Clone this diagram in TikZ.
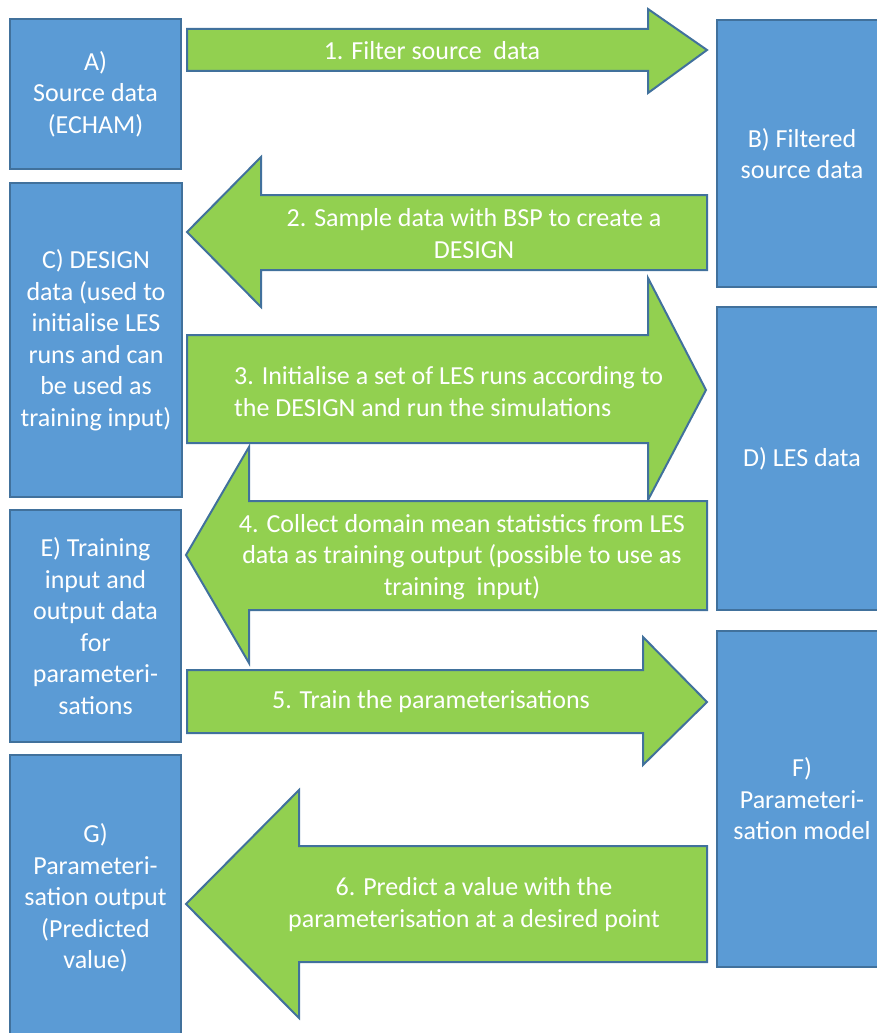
\documentclass[tikz,border=0pt]{standalone}
\usepackage{fontspec}
\setmainfont{Carlito}
\definecolor{boxblue}{HTML}{5B9BD5}
\definecolor{edgeblue}{HTML}{41719C}
\definecolor{arrgreen}{HTML}{92D050}
\begin{document}
\begin{tikzpicture}[x=1pt,y=-1pt,
  box/.style={draw=edgeblue,fill=boxblue,line width=2pt,rectangle,text=white,align=center,inner sep=0pt,
    font=\fontsize{26}{31.5}\selectfont},
  blockarrow/.style={draw=edgeblue,fill=arrgreen,line width=2pt,line join=miter},
  arrtext/.style={text=white,inner sep=0pt,font=\fontsize{26}{31.5}\selectfont}]
\useasboundingbox (0,0) rectangle (877,1033);
\clip (0,0) rectangle (877,1033);
% left column
\node[box,minimum width=171pt,minimum height=150pt] (A) at (95.5,94) {A)\\Source data\\(ECHAM)};
\node[box,minimum width=172pt,minimum height=314pt] (C) at (96,340) {C) DESIGN\\data (used to\\initialise LES\\runs and can\\be used as\\training input)};
\node[box,minimum width=171pt,minimum height=232pt] (E) at (95.5,626) {E) Training\\input and\\output data\\for\\parameteri-\\sations};
\node[box,minimum width=171pt,minimum height=286pt] (G) at (95.5,898) {G)\\Parameteri-\\sation output\\(Predicted\\value)};
% right column
\node[box,minimum width=170pt,minimum height=267pt] (B) at (802,153.5) {B) Filtered\\source data};
\node[box,minimum width=170pt,minimum height=303pt] (D) at (802,458.5) {D) LES data};
\node[box,minimum width=170pt,minimum height=336pt] (F) at (802,799) {F)\\Parameteri-\\sation model};
% arrow 1
\draw[blockarrow] (187,29) -- (648,29) -- (648,9) -- (707,50) -- (648,93) -- (648,71) -- (187,71) -- cycle;
\node[arrtext] (t1) at (432,51) {1. Filter source\ \ data};
% arrow 2
\draw[blockarrow] (187,232) -- (261,157) -- (261,195) -- (707,195) -- (707,270) -- (261,270) -- (261,307) -- cycle;
\node[arrtext,align=center] (t2) at (474,233.5) {2. Sample data with BSP to create a\\DESIGN};
% arrow 3
\draw[blockarrow] (187,335) -- (648,335) -- (648,278) -- (706,390) -- (648,500) -- (648,443) -- (187,443) -- cycle;
\node[arrtext,align=left,anchor=west] (t3) at (234,391.5) {3. Initialise a set of LES runs according to\\the DESIGN and run the simulations};
% arrow 4
\draw[blockarrow] (186,555) -- (249,447) -- (249,501) -- (707,501) -- (707,610) -- (249,610) -- (249,663) -- cycle;
\node[arrtext,align=center] (t4) at (462,557) {4. Collect domain mean statistics from LES\\data as training output (possible to use as\\training\ \ input)};
% arrow 5
\draw[blockarrow] (187,670) -- (643,670) -- (643,637) -- (707,702) -- (643,765) -- (643,733) -- (187,733) -- cycle;
\node[arrtext] (t5) at (431,702) {5. Train the parameterisations};
% arrow 6
\draw[blockarrow] (186,904) -- (299,790) -- (299,846) -- (707,846) -- (707,962) -- (299,962) -- (299,1018) -- cycle;
\node[arrtext,align=center] (t6) at (474,904.5) {6. Predict a value with the\\parameterisation at a desired point};
\end{tikzpicture}
\end{document}
